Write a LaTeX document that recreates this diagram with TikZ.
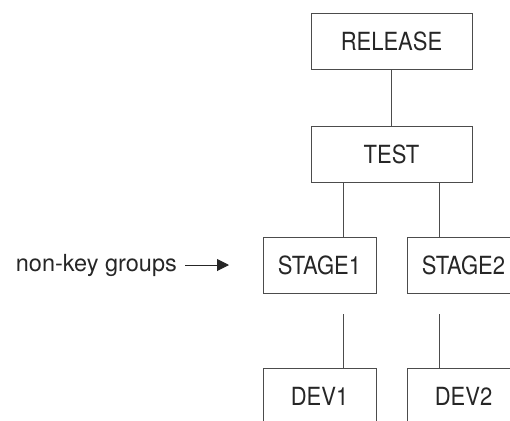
\documentclass[tikz,border=0pt]{standalone}
\usepackage{fontspec}
\setmainfont{TeX Gyre Heros}
\newfontfamily\narrowfont[FakeStretch=0.88]{TeX Gyre Heros}
\usetikzlibrary{arrows.meta}
\tikzset{
	grpbox/.style={draw=black!70, line width=0.8pt, text=black!85, minimum height=56pt, inner sep=0pt, font=\narrowfont\fontsize{25}{28}\selectfont},
	widebox/.style={grpbox, minimum width=161pt},
	narrowbox/.style={grpbox, minimum width=113pt},
	link/.style={draw=black!70, line width=0.8pt}
}

\begin{document}
\begin{tikzpicture}[x=1pt, y=-1pt]
		%%%%% START %%%%%
		
		\useasboundingbox (0, 0) rectangle (510, 420);
		\clip (0, 0) rectangle (510, 420);
		
		\node[widebox] (release) at (391.5, 41) {RELEASE};
		\node[widebox] (test) at (391.5, 154) {TEST};
		
		\node[narrowbox] (stage1) at (319.5, 265) {STAGE1};
		\node[narrowbox] (stage2) at (463.5, 265) {STAGE2};
		
		\node[narrowbox] (dev1) at (319.5, 396) {DEV1};
		\node[narrowbox] (dev2) at (463.5, 396) {DEV2};
		
		\coordinate (left) at (343, 0);
		\coordinate (right) at (439, 0);
		
		\draw[link] (release.south) -- (test.north);
		
		\draw[link] (test.south -| left) -- (stage1.north -| left);
		\draw[link] (test.south -| right) -- (stage2.north -| right);
		
		\draw[link] ([yshift=-21pt]stage1.south -| left) -- (dev1.north -| left);
		\draw[link] ([yshift=-21pt]stage2.south -| right) -- (dev2.north -| right);
		
		\node[anchor=east, inner sep=0pt, text=black!85, font=\fontsize{23.5}{27}\selectfont] (nonkey) at (177, 265) {non-key groups};
		\coordinate (tip) at (229, 265);
		\draw[draw=black!85, line width=1pt, -{Triangle[length=12pt, width=12pt]}] ([xshift=8pt]nonkey.east) -- (tip);
		
		%%%%% END %%%%%
	\end{tikzpicture}
\end{document}
